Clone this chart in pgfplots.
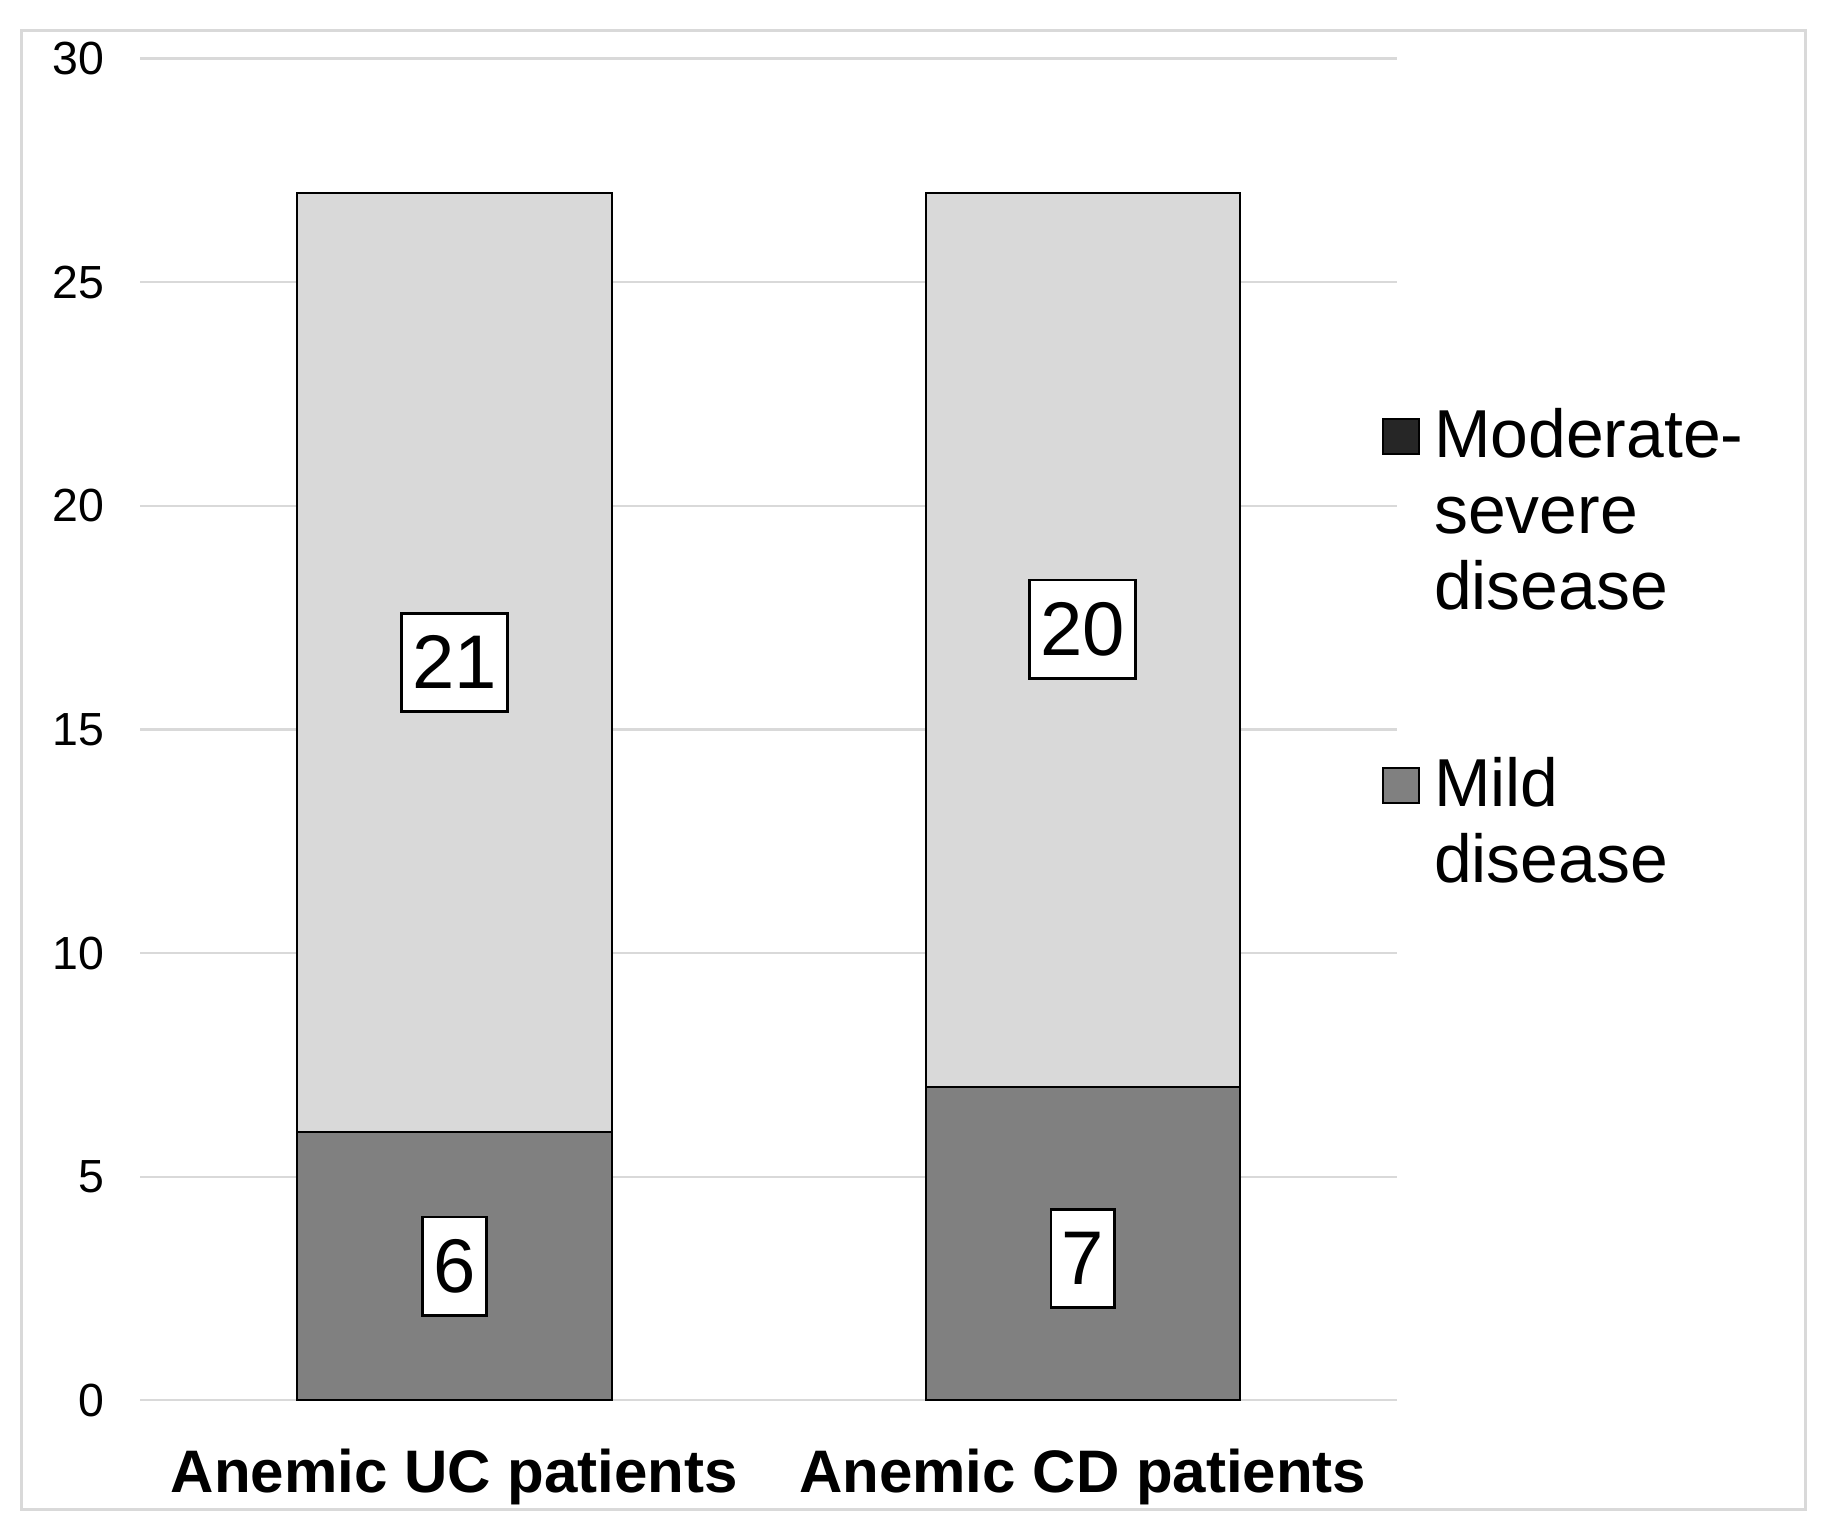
\documentclass[border=0pt]{standalone}
\usepackage{fontspec}
\setmainfont{Liberation Sans}
\usepackage{pgfplots}
\pgfplotsset{compat=1.18}
\definecolor{gridgray}{HTML}{D9D9D9}
\definecolor{lightbar}{HTML}{D9D9D9}
\definecolor{darkbar}{HTML}{808080}
\definecolor{darkleg}{HTML}{262626}
\begin{document}
\begin{tikzpicture}
\path[use as bounding box] (0,0) rectangle (15.6cm,13.11cm);
\draw[gridgray, line width=0.7pt] (0.185cm,0.21cm) rectangle (15.43cm,12.85cm);
\begin{axis}[
  at={(1.20cm,1.14cm)}, anchor=south west,
  width=10.74cm, height=11.47cm, scale only axis,
  ybar stacked, bar width=0.5,
  xmin=-0.5, xmax=1.5, ymin=0, ymax=30,
  xtick={0,1}, xticklabels={Anemic UC patients, Anemic CD patients},
  ytick={0,5,...,30},
  axis line style={draw=none},
  major tick length=0pt,
  ymajorgrids, grid style={gridgray, line width=0.55pt},
  /pgf/number format/assume math mode=true,
  yticklabel style={font=\fontsize{11.3}{13}\selectfont, anchor=east, inner sep=0pt, xshift=-0.30cm},
  xticklabel style={font=\bfseries\fontsize{14.6}{17}\selectfont, anchor=base, inner sep=0pt, yshift=-0.79cm},
  visualization depends on=\thisrow{off} \as \labeloff,
  nodes near coords,
  every node near coord/.append style={anchor=center, yshift=\labeloff*1cm,
    fill=white, draw=black, line width=0.7pt, inner xsep=0.09cm, inner ysep=0pt,
    minimum height=0.84cm, font=\fontsize{18.5}{20}\selectfont, text=black},
  legend cell align=left,
  legend style={at={(axis description cs:0.98799,0.7487)}, anchor=north west,
    draw=none, fill=none, inner sep=0pt, outer sep=0pt,
    row sep=66.5pt, column sep=0.05cm,
    font=\fontsize{16.5}{18.5}\selectfont,
    cells={anchor=base west, inner sep=0pt}},
]
% off = small vertical offset (cm) of the value label, as placed in the original
\addplot[fill=darkbar, draw=black, line width=0.5pt, forget plot] table[x=x, y=y] {
x y off
0 6 0
1 7 -0.128
};
\addplot[fill=lightbar, draw=black, line width=0.5pt, forget plot] table[x=x, y=y] {
x y off
0 21 0
1 20 0.093
};
\addlegendimage{legend image code/.code={\draw[fill=darkleg, draw=black, line width=0.5pt] (0cm,0.03cm) rectangle (0.31cm,0.33cm);}}
\addlegendentry{\begin{tabular}[t]{@{}l@{}}Moderate-\\severe\\disease\end{tabular}}
\addlegendimage{legend image code/.code={\draw[fill=darkbar, draw=black, line width=0.5pt] (0cm,0.03cm) rectangle (0.31cm,0.33cm);}}
\addlegendentry{\begin{tabular}[t]{@{}l@{}}Mild\\disease\end{tabular}}
\end{axis}
\end{tikzpicture}
\end{document}
